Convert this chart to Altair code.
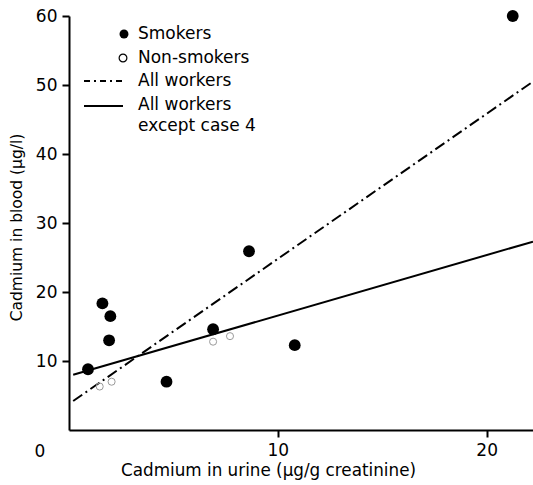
import altair as alt
import pandas as pd

# Smokers (filled circles)
smoker_x = [21.25, 8.62, 1.60, 1.98, 1.92, 6.90, 0.91, 4.67, 10.81]
smoker_y = [60.0, 25.9, 18.35, 16.5, 13.0, 14.6, 8.8, 7.0, 12.3]

# Non-smokers (open circles, faint in the original)
nonsmoker_x = [1.47, 2.04, 6.90, 7.71]
nonsmoker_y = [6.3, 7.0, 12.8, 13.6]

# Regression lines (end points)
line_x = [0.2, 22.22]
all_workers_y = [4.2, 50.5]
except_case4_y = [8.0, 27.3]

legend_labels = ["Smokers", "Non-smokers", "All workers", "All workers", "except case 4"]
x_ticks = [10, 20]
y_ticks = [10, 20, 30, 40, 50, 60]

FONT = "DejaVu Sans"
W, H = 464, 414

xs = alt.Scale(domain=[0, 22.22], nice=False, zero=False)
ys = alt.Scale(domain=[0, 60], nice=False, zero=False)

smokers = pd.DataFrame({"x": smoker_x, "y": smoker_y})
nonsmokers = pd.DataFrame({"x": nonsmoker_x, "y": nonsmoker_y})
l_all = pd.DataFrame({"x": line_x, "y": all_workers_y})
l_exc = pd.DataFrame({"x": line_x, "y": except_case4_y})
one = pd.DataFrame({"d": [0]})

xenc = alt.X("x:Q", scale=xs, axis=alt.Axis(
    values=x_ticks, title="Cadmium  in urine (µg/g creatinine)", grid=False,
    domainColor="black", domainWidth=2, tickColor="black", tickWidth=2, tickSize=7,
    labelFont=FONT, labelFontSize=17, labelColor="black", labelPadding=5,
    titleFont=FONT, titleFontSize=16.8, titleFontWeight="normal", titleColor="black",
    titleX=199, titleY=40, titleAlign="center", titleBaseline="middle", titleAnchor=None))
yenc = alt.Y("y:Q", scale=ys, axis=alt.Axis(
    values=y_ticks, title="Cadmium in blood (µg/l)", grid=False,
    domainColor="black", domainWidth=2, tickColor="black", tickWidth=2, tickSize=7,
    labelFont=FONT, labelFontSize=17, labelColor="black", labelPadding=5,
    titleFont=FONT, titleFontSize=15.5, titleFontWeight="normal", titleColor="black",
    titleX=-53, titleY=211, titleAngle=270, titleAlign="center", titleBaseline="middle"))

line_all = alt.Chart(l_all).mark_line(color="black", strokeWidth=2, strokeDash=[11, 4, 2, 4], clip=False).encode(x=xenc, y=yenc)
line_exc = alt.Chart(l_exc).mark_line(color="black", strokeWidth=2, clip=False).encode(x="x:Q", y="y:Q")
pts_s = alt.Chart(smokers).mark_point(filled=True, shape="circle", size=140, color="black", opacity=1, clip=False).encode(x="x:Q", y="y:Q")
pts_n = alt.Chart(nonsmokers).mark_point(filled=False, shape="circle", size=50, color="#9a9a9a", strokeWidth=1, opacity=1).encode(x="x:Q", y="y:Q")

# Origin label "0"
zero_lbl = alt.Chart(one).mark_text(text="0", font=FONT, fontSize=17, color="black", baseline="middle", align="center").encode(
    x=alt.value(-29), y=alt.value(H + 22))

# Legend (inside the plot, top left)
lg_dot = alt.Chart(one).mark_point(filled=True, shape="circle", size=80, color="black", opacity=1).encode(x=alt.value(55), y=alt.value(18))
lg_open = alt.Chart(one).mark_point(filled=False, shape="circle", size=60, color="black", strokeWidth=1.2, opacity=1).encode(x=alt.value(54), y=alt.value(42))
lg_dash = alt.Chart(one).mark_rule(color="black", strokeWidth=2, strokeDash=[6, 4, 2, 4]).encode(x=alt.value(15), x2=alt.value(54), y=alt.value(65))
lg_solid = alt.Chart(one).mark_rule(color="black", strokeWidth=2).encode(x=alt.value(15), x2=alt.value(54), y=alt.value(90))

lg_ys = [18, 42, 65, 89, 110]
lg_texts = [
    alt.Chart(one).mark_text(text=t, font=FONT, fontSize=17, color="black", align="left", baseline="middle").encode(
        x=alt.value(69), y=alt.value(yy))
    for t, yy in zip(legend_labels, lg_ys)
]

chart = alt.layer(line_all, line_exc, pts_n, pts_s, zero_lbl, lg_dot, lg_open, lg_dash, lg_solid, *lg_texts).properties(
    width=W, height=H, autosize="none",
    padding={"left": 69, "top": 16, "right": 0, "bottom": 55},
    background="white"
).configure_view(stroke=None)

chart.save("out.html", embed_options={"renderer": "svg", "actions": False})
